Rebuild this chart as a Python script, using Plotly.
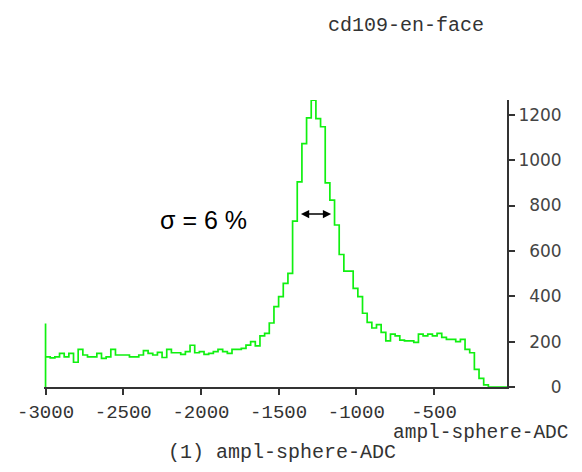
import numpy as np
import plotly.graph_objects as go

# ---- data ----
bin_start = -3000
bin_width = 30
counts = [133, 128, 133, 148, 133, 148, 109, 166, 141, 133,
          133, 148, 126, 133, 166, 141, 141, 141, 133, 133,
          141, 160, 148, 141, 153, 130, 166, 151, 151, 144,
          156, 184, 151, 156, 144, 148, 156, 166, 156, 148,
          166, 166, 170, 185, 200, 181, 225, 236, 282, 354,
          398, 457, 501, 731, 904, 1073, 1186, 1264, 1183, 1147,
          900, 824, 714, 584, 511, 511, 435, 398, 325, 285,
          260, 275, 241, 203, 233, 225, 207, 203, 203, 197,
          233, 225, 233, 225, 236, 219, 210, 210, 200, 210,
          166, 151, 78, 38, 9, 0, 0, 0, 0]
edge_spike = 280

x_ticks = [-3000, -2500, -2000, -1500, -1000, -500]
x_tick_labels = ["-3000", "-2500", "-2000", "-1500", "-1000", "-500"]
y_ticks = [0, 200, 400, 600, 800, 1000, 1200]
y_tick_labels = ["\u2007\u2007\u20070", "\u2007200", "\u2007400", "\u2007600",
                 "\u2007800", "1000", "1200"]

title_text = "cd109-en-face"
x_label = "ampl-sphere-ADC"
sub_label = "(1) ampl-sphere-ADC"
sigma_text = "σ = 6 %"
sigma_pos = (-1985, 736)
arrow_left = -1366
arrow_right = -1162
arrow_y = 762

# ---- build step outline ----
edges = bin_start + bin_width * np.arange(len(counts) + 1)
xs = [edges[0], edges[0]] + list(edges)
ys = [0, edge_spike] + counts + [counts[-1]]

fig = go.Figure()
fig.add_trace(go.Scatter(x=xs, y=ys, mode="lines", cliponaxis=False,
                         line=dict(shape="hv", color="#10f010", width=1.7),
                         hoverinfo="skip", showlegend=False))

mono = "Liberation Mono"
fig.update_layout(
    width=582, height=472, autosize=False,
    margin=dict(l=43.5, r=75, t=100, b=85),
    paper_bgcolor="white", plot_bgcolor="white",
    showlegend=False,
    xaxis=dict(range=[-3010, -30], showgrid=False, zeroline=False,
               showline=True, linecolor="#333", linewidth=2,
               ticks="outside", ticklen=6, tickwidth=2, tickcolor="#333",
               tickvals=x_ticks, ticktext=x_tick_labels,
               tickfont=dict(family=mono, size=19, color="#333")),
    yaxis=dict(range=[0, 1265], side="right", showgrid=False, zeroline=False,
               showline=True, linecolor="#333", linewidth=2,
               ticks="outside", ticklen=6, tickwidth=2, tickcolor="#333",
               tickvals=y_ticks, ticktext=y_tick_labels,
               tickfont=dict(family="DejaVu Sans", size=17, color="#444")),
)

fig.add_annotation(text=title_text, xref="paper", yref="paper",
                   x=0.782, y=1.261, xanchor="center", yanchor="middle",
                   showarrow=False, font=dict(family=mono, size=20, color="#333"))
fig.add_annotation(text=x_label, xref="paper", yref="paper",
                   x=1.138, y=-0.160, xanchor="right", yanchor="middle",
                   showarrow=False, font=dict(family=mono, size=19.5, color="#333"))
fig.add_annotation(text=sub_label, xref="paper", yref="paper",
                   x=0.515, y=-0.2295, xanchor="center", yanchor="middle",
                   showarrow=False, font=dict(family=mono, size=20, color="#333"))
fig.add_annotation(text=sigma_text, xref="x", yref="y",
                   x=sigma_pos[0], y=sigma_pos[1], xanchor="center", yanchor="middle",
                   showarrow=False, font=dict(family="Liberation Sans", size=25, color="black"))
fig.add_annotation(text="", xref="x", yref="y", axref="x", ayref="y",
                   x=arrow_right, y=arrow_y, ax=arrow_left, ay=arrow_y,
                   showarrow=True, arrowside="end+start",
                   arrowhead=2, startarrowhead=2, arrowsize=1.1, startarrowsize=1.1,
                   arrowwidth=1.5, arrowcolor="black")

fig.write_html("out.html")
